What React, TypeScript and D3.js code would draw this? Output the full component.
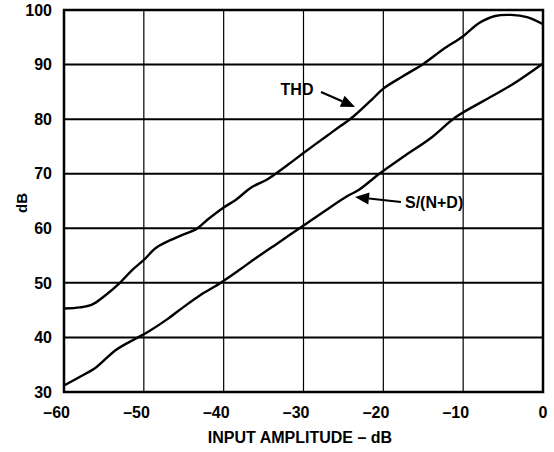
import React from "react";
import * as d3 from "d3";

const thdX = [-60, -58, -56.5, -55, -53, -51.5, -50, -48.5, -47, -45, -43.5, -42, -40, -38.5, -36.5, -34.5, -32, -30, -27, -25.5, -24.5, -23.5, -21.5, -20, -17.5, -15, -12.5, -10, -8, -6, -4, -2, 0];
const thdY = [45.3, 45.5, 46.0, 47.5, 50.0, 52.3, 54.2, 56.4, 57.6, 58.9, 59.8, 61.6, 63.8, 65.2, 67.5, 69.0, 71.6, 73.8, 77.0, 78.6, 79.6, 80.8, 83.5, 85.6, 87.9, 90.1, 92.8, 95.2, 97.6, 98.9, 99.1, 98.7, 97.4];

const sndX = [-60, -58, -56, -53.5, -51, -49.5, -47, -45, -43, -40.5, -38, -36, -33, -30.5, -27, -24.5, -23, -20.5, -17.5, -14, -11, -7.5, -4, 0];
const sndY = [31.2, 32.8, 34.5, 37.7, 39.8, 41.0, 43.4, 45.6, 47.7, 49.9, 52.4, 54.5, 57.5, 60.0, 63.5, 65.9, 67.1, 70.0, 73.1, 76.6, 80.3, 83.3, 86.2, 90.2];

const xTicks = [-60, -50, -40, -30, -20, -10, 0];
const yTicks = [30, 40, 50, 60, 70, 80, 90, 100];
const xTickLabels = ["\u201360", "\u201350", "\u201340", "\u201330", "\u201320", "\u201310", "0"];

const xTitle = "INPUT AMPLITUDE \u2013 dB";
const yTitle = "dB";

const W = 554, H = 452;
const L = 64, R = 543, T = 10, B = 392;
const FONT = "'Liberation Sans', Arial, Helvetica, sans-serif";

export default function App() {
  const x = d3.scaleLinear().domain([-60, 0]).range([L, R]);
  const y = d3.scaleLinear().domain([30, 100]).range([B, T]);
  const line = d3
    .line<[number, number]>()
    .x((d) => x(d[0]))
    .y((d) => y(d[1]))
    .curve(d3.curveCatmullRom.alpha(0.5));
  const thd = thdX.map((v, i) => [v, thdY[i]] as [number, number]);
  const snd = sndX.map((v, i) => [v, sndY[i]] as [number, number]);

  const arrow = (x1: number, y1: number, x2: number, y2: number) => {
    const a = Math.atan2(y2 - y1, x2 - x1);
    const len = 14, wid = 6;
    const bx = x2 - len * Math.cos(a), by = y2 - len * Math.sin(a);
    const px = -Math.sin(a) * wid, py = Math.cos(a) * wid;
    return (
      <g>
        <line x1={x1} y1={y1} x2={bx} y2={by} stroke="#000" strokeWidth={2.2} />
        <path d={`M${x2},${y2}L${bx + px},${by + py}L${bx - px},${by - py}Z`} fill="#000" />
      </g>
    );
  };

  return (
    <svg width={W} height={H} style={{ position: "absolute", left: 0, top: 0, background: "#fff" }} fontFamily={FONT}>
      <rect x={0} y={0} width={W} height={H} fill="#fff" />
      {xTicks.slice(1, -1).map((t) => (
        <line key={"vx" + t} x1={x(t)} x2={x(t)} y1={T} y2={B} stroke="#000" strokeWidth={1.2} />
      ))}
      {yTicks.slice(1, -1).map((t) => (
        <line key={"hy" + t} x1={L} x2={R} y1={y(t)} y2={y(t)} stroke="#000" strokeWidth={2} />
      ))}
      <rect x={L} y={T} width={R - L} height={B - T} fill="none" stroke="#000" strokeWidth={2.5} />
      <path d={line(thd) || ""} fill="none" stroke="#000" strokeWidth={2.4} strokeLinejoin="round" />
      <path d={line(snd) || ""} fill="none" stroke="#000" strokeWidth={2.4} strokeLinejoin="round" />
      {yTicks.map((t) => (
        <text key={"yl" + t} x={52} y={y(t)} dy="0.36em" textAnchor="end" fontSize={16} fontWeight="bold">
          {t}
        </text>
      ))}
      {xTicks.map((t, i) => (
        <text
          key={"xl" + t}
          x={t === 0 ? x(t) : x(t) + 6}
          y={418}
          textAnchor={t === 0 ? "middle" : "end"}
          fontSize={16}
          fontWeight="bold"
        >
          {xTickLabels[i]}
        </text>
      ))}
      <text x={300} y={443} textAnchor="middle" fontSize={16} fontWeight="bold">
        {xTitle}
      </text>
      <text transform="translate(27,203) rotate(-90)" textAnchor="middle" fontSize={15} fontWeight="bold">
        {yTitle}
      </text>
      <text x={297} y={95} textAnchor="middle" fontSize={16} fontWeight="bold">THD</text>
      {arrow(321, 92, 355, 107)}
      <text x={405} y={208} textAnchor="start" fontSize={16} fontWeight="bold">S/(N+D)</text>
      {arrow(401, 202, 355, 197)}
    </svg>
  );
}
